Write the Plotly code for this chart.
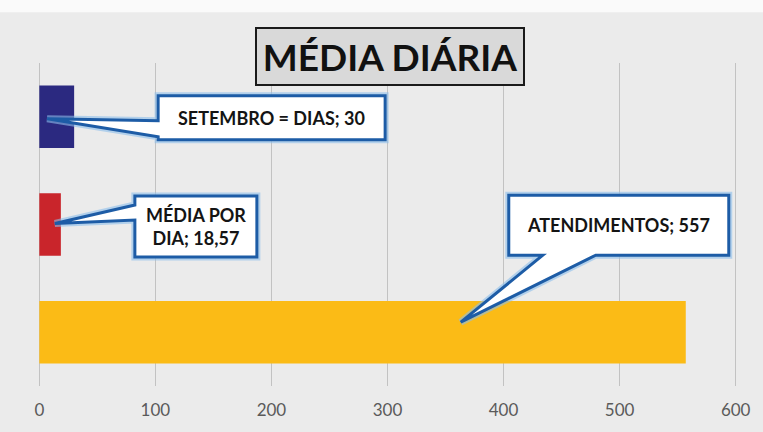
import plotly.graph_objects as go

# ---- data ----
categories = ["ATENDIMENTOS", "MÉDIA POR DIA", "SETEMBRO = DIAS"]
values = [557, 18.57, 30]
bar_colors = ["#fbbb16", "#c9252b", "#2b2980"]
label_texts = ["ATENDIMENTOS; 557", "MÉDIA POR<br>DIA; 18,57", "SETEMBRO = DIAS; 30"]
x_ticks = [0, 100, 200, 300, 400, 500, 600]
title_text = "MÉDIA DIÁRIA"

FONT = "Lato"

fig = go.Figure(go.Bar(
    y=categories, x=values, orientation="h",
    marker=dict(color=bar_colors, line=dict(width=0)),
    hoverinfo="skip",
))

# callout geometry (pixels relative to the bar end, y up positive)
callouts = {
    "SETEMBRO = DIAS": dict(path="M -27,-2 L 84,-20 L 84,-23 L 311,-23 L 311,21 L 84,21 L 84,-4 Z",
                            xshift=197, yshift=-1),
    "MÉDIA POR DIA": dict(path="M -6,1 L 74,4.5 L 74,-32.5 L 196,-32.5 L 196,28.5 L 74,28.5 L 74,19.5 Z",
                          xshift=135, yshift=-1.5),
    "ATENDIMENTOS": dict(path="M -225,10 L -90,77 L 43,77 L 43,137 L -177,137 L -177,77 L -143,77 Z",
                         xshift=-67, yshift=107),
}

shapes = []
annotations = []
for cat, val, txt in zip(categories, values, label_texts):
    c = callouts[cat]
    for lw, col in ((7, "rgba(140,190,235,0.6)"), (3, "#1d5ca6")):
        shapes.append(dict(
            type="path", path=c["path"], xref="x", yref="y",
            xsizemode="pixel", ysizemode="pixel",
            xanchor=val, yanchor=cat,
            fillcolor="white", line=dict(color=col, width=lw), layer="above",
        ))
    annotations.append(dict(
        x=val, y=cat, xref="x", yref="y", text=txt, showarrow=False,
        xshift=c["xshift"], yshift=c["yshift"],
        font=dict(family=FONT, size=18, color="#141414", weight="bold"),
        align="center",
    ))

# top white strip (photo margin)
shapes.insert(0, dict(type="rect", xref="paper", yref="paper", x0=-0.1, x1=1.1,
                      y0=1.157, y1=1.25, fillcolor="#fafafa", line=dict(width=0), layer="below"))

# title box
annotations.append(dict(
    x=0.5036, y=1.0201, xref="paper", yref="paper", showarrow=False,
    text=title_text, width=264, height=53,
    font=dict(family=FONT, size=37, color="#111111", weight="bold"),
    bgcolor="#d9d9d9", bordercolor="#1a1a1a", borderwidth=2, borderpad=1,
    xanchor="center", yanchor="middle",
))

fig.update_layout(
    width=763, height=432,
    margin=dict(l=37, r=21, t=63, b=46, pad=0),
    paper_bgcolor="#ebebeb", plot_bgcolor="rgba(0,0,0,0)",
    showlegend=False, bargap=0.42,
    shapes=shapes, annotations=annotations,
    xaxis=dict(range=[-2, 602], tickvals=x_ticks, showgrid=True, gridcolor="#c2c2c2", gridwidth=1,
               zeroline=False, showline=False, ticks="", ticklabelstandoff=12,
               tickfont=dict(family=FONT, size=17, color="#5a5a5a")),
    yaxis=dict(categoryorder="array", categoryarray=categories, showticklabels=False,
               showgrid=False, zeroline=False, showline=False, range=[-0.5, 2.5]),
)

fig.write_html("out.html", config={"displayModeBar": False},
               post_script="document.body.style.margin='0';")
